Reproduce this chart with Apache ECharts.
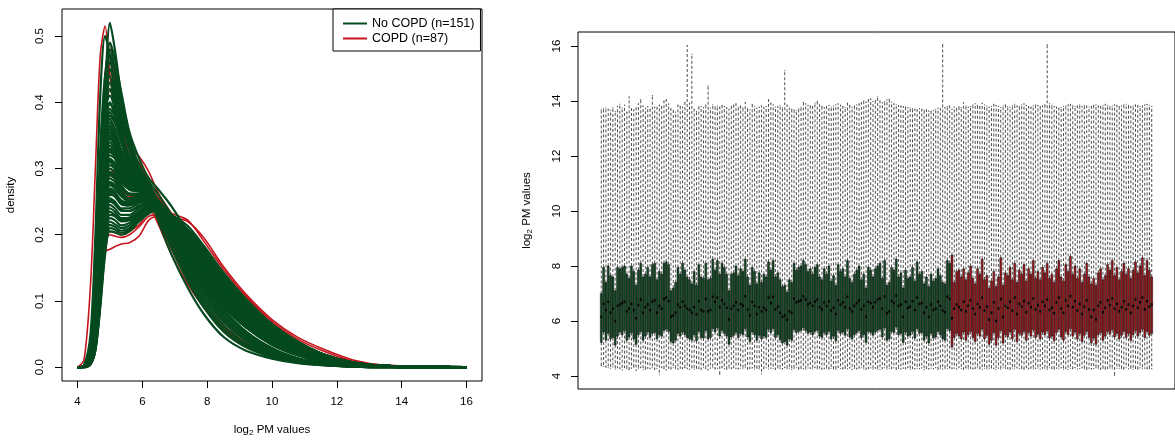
<!DOCTYPE html>
<html><head><meta charset="utf-8">
<script src="https://cdn.jsdelivr.net/npm/echarts@6/dist/echarts.min.js"></script>
<style>html,body{margin:0;padding:0;background:#fff}#c{width:1175px;height:442px}</style>
</head><body><div id="c"></div>
<script>
// ---------- density panel data (density values in thousandths) ----------
const densityX = [4.0,4.2,4.4,4.55,4.7,4.85,5.0,5.15,5.35,5.6,5.9,6.2,6.5,6.9,7.4,7.9,8.5,9.2,10.0,10.8,11.6,12.5,13.5,16.0];
const greenDensity = [
 [0,1,10,60,200,410,520,480,410,350,300,260,220,170,120,80,46,25,13,6,3,1,0,0],
 [0,3,50,200,410,500,470,420,370,330,295,262,228,180,130,90,54,30,15,7,3,1,0,0],
 [0,1,12,70,230,420,490,465,415,355,315,285,268,243,205,168,125,85,50,27,12,4,1,0],
 [0,2,20,100,270,440,480,450,395,340,300,270,235,192,142,100,63,36,19,9,4,1,0,0],
 [0,1,10,60,210,390,470,450,400,345,305,275,232,185,136,95,58,33,17,8,3,1,0,0],
 [0,2,30,140,330,440,460,430,380,330,290,262,235,195,145,105,68,40,20,9,4,1,0,0],
 [0,1,12,65,220,390,450,430,380,330,300,275,240,205,158,118,80,48,25,12,5,2,1,0],
 [0,1,15,80,250,400,440,410,360,315,285,262,238,200,150,110,72,43,22,10,4,1,0,0],
 [0,1,12,70,240,390,430,400,350,305,278,255,240,203,155,115,76,46,24,11,5,2,0,0],
 [0,1,8,45,180,360,420,400,355,310,285,265,244,210,165,126,88,54,29,14,6,2,1,0],
 [0,2,25,120,290,390,410,390,350,310,288,270,242,208,162,122,84,51,27,13,6,2,1,0],
 [0,2,25,120,280,380,400,380,340,305,283,266,246,214,170,132,94,60,34,18,8,3,1,0],
 [0,1,7,40,160,320,390,380,350,320,300,280,260,230,185,145,102,66,37,19,9,3,1,0],
 [0,1,10,55,190,330,385,372,340,310,290,272,245,210,165,128,92,60,34,18,8,3,1,0],
 [0,1,10,50,190,330,380,370,340,310,290,275,250,226,186,150,112,76,46,25,12,4,1,0],
 [0,1,20,100,240,340,375,360,325,295,280,268,248,217,174,136,97,63,36,19,8,3,1,0],
 [0,1,8,45,170,315,370,358,328,300,284,270,252,222,180,142,103,68,40,21,10,3,1,0],
 [0,2,25,115,250,340,365,350,318,292,280,268,250,220,178,140,100,66,38,20,9,3,1,0],
 [0,1,6,35,140,290,360,345,310,285,275,265,245,210,165,128,92,60,34,18,8,3,1,0],
 [0,1,12,60,180,300,355,342,312,290,278,268,250,225,184,148,110,74,44,24,11,4,1,0],
 [0,2,30,130,260,330,350,335,305,285,278,270,250,222,181,145,106,71,42,22,10,4,1,0],
 [0,1,8,40,150,285,345,335,305,284,275,266,250,226,188,152,114,79,48,27,13,5,1,0],
 [0,1,6,35,140,280,340,330,300,280,270,262,250,225,184,148,110,74,44,24,11,4,1,0],
 [0,1,15,75,200,300,335,325,298,280,273,266,248,228,192,156,118,82,50,28,13,5,1,0],
 [0,1,15,80,200,300,330,320,295,278,272,268,250,226,186,150,112,76,46,25,12,4,1,0],
 [0,1,7,38,140,270,325,318,292,277,271,265,250,228,194,160,122,86,53,30,15,5,2,0],
 [0,1,6,35,130,260,320,315,290,275,270,265,248,228,192,156,118,82,50,28,13,5,1,0],
 [0,1,12,60,170,275,315,308,286,272,268,263,250,226,188,152,114,79,48,27,13,5,1,0],
 [0,2,25,110,220,290,310,300,280,268,265,262,250,226,188,152,114,79,48,27,13,5,1,0],
 [0,1,8,40,140,255,305,300,282,270,268,264,248,228,196,163,125,89,56,32,16,6,2,0],
 [0,1,6,30,120,250,300,295,275,262,262,260,250,228,194,160,122,86,53,30,15,5,2,0],
 [0,1,10,50,150,255,295,290,272,262,260,258,248,228,192,156,118,82,50,28,13,5,1,0],
 [0,1,14,65,170,260,290,285,270,260,260,258,246,228,198,166,128,92,58,34,17,6,2,0],
 [0,1,12,60,160,250,285,280,265,255,256,256,248,228,196,163,125,89,56,32,16,6,2,0],
 [0,1,6,30,110,230,280,275,262,255,258,260,244,228,200,170,132,95,60,35,18,7,2,0],
 [0,1,10,48,140,240,275,270,258,250,254,255,250,228,194,160,122,86,53,30,15,5,2,0],
 [0,1,5,30,110,225,270,265,250,245,250,252,246,228,198,166,128,92,58,34,17,6,2,0],
 [0,1,9,45,135,230,265,262,250,246,250,253,242,228,202,172,136,98,62,37,18,7,2,0],
 [0,1,8,40,130,220,260,258,248,248,255,258,250,220,178,140,100,66,38,20,9,3,1,0],
 [0,1,15,70,160,230,255,250,238,236,243,248,244,228,200,170,132,95,60,35,18,7,2,0],
 [0,1,7,35,120,215,250,246,236,236,244,250,240,228,204,176,139,100,64,38,19,7,2,0],
 [0,0,6,32,110,205,245,240,230,230,240,246,246,228,198,166,128,92,58,34,17,6,2,0],
 [0,0,5,30,100,200,240,235,225,226,236,244,242,228,202,172,136,98,62,37,18,7,2,0],
 [0,1,12,55,140,210,235,230,222,224,234,242,240,228,204,176,139,100,64,38,19,7,2,0],
 [0,0,5,28,100,195,230,228,220,222,232,241,244,228,200,170,132,95,60,35,18,7,2,0],
 [0,1,10,50,130,200,225,222,214,218,230,240,240,228,204,176,139,100,64,38,19,7,2,0],
 [0,0,5,26,95,185,220,216,210,214,228,238,238,228,208,180,141,102,65,38,19,7,2,0],
 [0,1,8,40,115,190,215,212,206,210,225,236,242,228,202,172,136,98,62,37,18,7,2,0],
 [0,0,4,25,90,170,210,208,203,207,222,234,236,230,213,183,143,103,65,38,19,7,2,0],
 [0,0,5,28,95,175,205,204,200,205,220,232,238,228,208,180,141,102,65,38,19,7,2,0],
 [0,1,9,45,150,260,312,306,284,270,266,262,248,228,194,160,122,86,53,30,15,5,2,0],
 [0,1,11,55,160,255,292,288,271,260,259,257,246,228,198,166,128,92,58,34,17,6,2,0],
 [0,1,8,42,140,240,278,273,260,252,255,257,248,228,196,163,125,89,56,32,16,6,2,0],
 [0,1,7,38,128,228,268,263,252,248,252,255,244,228,200,170,132,95,60,35,18,7,2,0],
 [0,1,12,58,150,236,262,258,246,244,250,254,242,228,202,172,136,98,62,37,18,7,2,0],
 [0,1,9,45,135,225,252,248,240,240,248,252,240,228,204,176,139,100,64,38,19,7,2,0],
 [0,1,10,50,165,280,328,320,296,281,275,268,250,226,188,152,114,79,48,27,13,5,1,0],
 [0,1,9,46,170,298,348,338,308,288,279,270,250,225,184,148,110,74,44,24,11,4,1,0],
 [0,1,8,44,160,306,362,350,318,294,282,272,250,222,181,145,106,71,42,22,10,4,1,0],
 [0,1,10,52,190,340,398,385,350,316,295,276,250,220,178,140,100,66,38,20,9,3,1,0]
];
const redDensity = [
 [0,11,125,300,470,515,440,395,358,330,308,278,240,190,135,95,58,32,16,7,3,1,0,0],
 [0,1,8,40,160,360,460,450,400,345,300,270,240,200,150,110,72,42,22,10,4,1,0,0],
 [0,1,10,50,190,360,420,400,360,335,318,295,262,232,190,150,108,70,40,21,10,3,1,0],
 [0,2,15,70,220,380,420,390,340,300,270,245,215,170,125,90,56,32,16,7,3,1,0,0],
 [0,1,10,45,150,280,330,320,295,280,275,270,255,228,190,155,117,80,48,27,13,5,1,0],
 [0,2,20,80,150,175,178,182,186,188,198,222,228,226,220,195,152,110,72,45,27,11,3,0],
 [0,2,15,70,160,200,205,203,200,205,215,235,238,232,222,190,148,107,69,42,24,9,3,0],
 [0,1,10,50,140,190,200,198,196,200,212,228,230,225,205,172,135,97,62,37,19,7,2,0],
 [0,1,12,60,170,270,300,290,270,260,262,262,250,226,190,156,118,82,50,28,14,5,1,0],
 [0,2,12,60,240,440,490,440,380,330,295,265,235,190,140,100,64,37,19,9,4,1,0,0],
 [0,1,10,50,180,370,450,420,370,320,285,255,222,178,130,94,60,34,17,8,3,1,0,0],
 [0,1,12,55,170,310,380,370,340,310,292,275,255,225,182,146,108,72,43,23,11,4,1,0],
 [0,2,20,90,220,320,350,338,310,290,282,272,252,226,186,150,112,76,46,25,12,4,1,0],
 [0,1,8,40,140,250,290,285,268,258,260,262,252,230,196,162,124,88,55,31,15,5,2,0]
];
const densityScale = 1000; // values above are density x 1000
const densityTicksX = [4,6,8,10,12,14,16];
const densityTicksY = [0,0.1,0.2,0.3,0.4,0.5];
const legendNames = ['No COPD (n=151)','COPD (n=87)'];

// ---------- boxplot panel data: [lowWhisker, Q1, median, Q3, highWhisker] ----------
const greenBoxes = [
 [4.38,5.22,6.15,7.00,13.68],[4.35,5.60,6.62,7.95,13.72],[4.32,5.30,6.40,7.40,13.74],[4.30,5.55,6.70,8.00,13.70],[4.28,5.35,6.30,7.65,13.66],[4.33,5.40,6.45,7.60,13.75],[4.25,5.12,6.00,7.10,13.62],[4.30,5.45,6.55,7.95,13.80],[4.27,5.60,6.60,7.90,13.88],[4.22,5.50,6.65,7.95,13.75],
 [4.30,5.65,6.70,8.00,13.85],[4.26,5.30,6.35,7.70,13.60],[4.24,5.42,6.45,7.55,14.15],[4.28,5.58,6.62,8.00,13.72],[4.32,5.35,6.40,7.80,13.68],[4.20,5.15,6.10,7.30,13.75],[4.26,5.50,6.58,7.85,13.90],[4.30,5.62,6.78,8.10,14.05],[4.22,5.30,6.30,7.60,13.82],[4.25,5.45,6.50,7.70,13.74],
 [4.28,5.60,6.60,7.95,13.80],[4.26,5.40,6.40,7.60,13.70],[4.30,5.55,6.70,8.05,14.20],[4.24,5.58,6.75,8.10,13.78],[4.27,5.35,6.30,7.50,13.76],[4.05,5.50,6.55,7.80,13.85],[4.30,5.45,6.45,7.70,13.80],[4.26,5.65,6.80,8.10,14.00],[4.22,5.70,6.85,8.15,14.05],[4.28,5.62,6.72,8.05,13.90],
 [4.25,5.25,6.15,7.10,13.72],[4.30,5.20,6.20,7.20,13.65],[4.26,5.30,6.30,7.40,13.60],[4.24,5.55,6.60,7.95,13.85],[4.28,5.45,6.50,7.70,13.80],[4.27,5.60,6.70,8.10,13.78],[4.31,5.50,6.55,7.85,13.95],[4.26,5.40,6.45,7.60,16.02],[4.24,5.35,6.40,7.50,13.92],[4.29,5.30,6.30,7.35,15.70],
 [4.25,5.50,6.50,7.80,13.70],[4.28,5.28,6.25,7.30,13.62],[4.27,5.62,6.72,8.05,13.78],[4.24,5.40,6.40,7.60,13.80],[4.30,5.38,6.35,7.55,13.76],[4.26,5.65,6.80,8.10,13.85],[4.22,5.35,6.35,7.50,14.55],[4.28,5.40,6.40,7.55,13.74],[4.30,5.72,6.88,8.25,13.86],[4.25,5.60,6.70,7.85,13.80],
 [4.28,5.75,6.85,8.20,13.82],[4.06,5.45,6.50,7.70,13.78],[4.30,5.65,6.75,8.10,13.84],[4.26,5.55,6.62,7.95,13.80],[4.24,5.45,6.48,7.70,13.76],[4.29,5.15,6.05,7.10,13.70],[4.26,5.42,6.45,7.70,13.80],[4.30,5.48,6.55,7.75,13.85],[4.27,5.58,6.68,8.00,13.90],[4.25,5.40,6.40,7.65,13.78],
 [4.28,5.55,6.62,7.90,13.82],[4.26,5.50,6.55,7.80,13.74],[4.30,5.72,6.90,8.25,13.95],[4.24,5.42,6.42,7.60,13.72],[4.27,5.25,6.20,7.30,13.68],[4.29,5.60,6.70,7.95,13.88],[4.25,5.50,6.55,7.80,13.80],[4.28,5.30,6.25,7.35,13.74],[4.26,5.48,6.50,7.75,13.78],[4.08,5.35,6.35,7.40,13.82],
 [4.27,5.45,6.48,7.70,13.76],[4.30,5.40,6.40,7.60,13.80],[4.25,5.70,6.85,8.15,14.05],[4.28,5.58,6.65,7.85,13.92],[4.26,5.72,6.88,8.20,13.86],[4.24,5.40,6.42,7.60,13.78],[4.29,5.50,6.52,7.75,13.80],[4.27,5.32,6.30,7.50,13.84],[4.25,5.20,6.15,7.25,13.76],[4.30,5.25,6.20,7.30,15.10],
 [4.26,5.12,6.05,7.05,13.85],[4.28,5.35,6.35,7.50,13.74],[4.24,5.30,6.30,7.40,13.70],[4.27,5.68,6.82,8.10,13.68],[4.30,5.58,6.68,7.85,13.65],[4.25,5.62,6.72,7.95,13.72],[4.28,5.65,6.75,8.00,13.78],[4.26,5.75,6.90,8.20,13.95],[4.24,5.65,6.78,8.05,13.90],[4.29,5.55,6.60,7.80,13.84],
 [4.27,5.60,6.65,7.90,13.82],[4.25,5.50,6.55,7.70,13.80],[4.30,5.62,6.70,7.95,13.92],[4.26,5.66,6.78,8.05,13.98],[4.28,5.45,6.50,7.60,13.86],[4.24,5.40,6.42,7.50,13.80],[4.27,5.58,6.68,7.90,13.76],[4.29,5.50,6.55,7.70,13.80],[4.25,5.62,6.72,8.00,13.84],[4.28,5.35,6.38,7.45,13.78],
 [4.26,5.45,6.48,7.65,13.82],[4.24,5.28,6.25,7.30,13.86],[4.30,5.66,6.75,8.05,13.90],[4.27,5.55,6.60,7.80,13.85],[4.25,5.60,6.68,7.90,13.80],[4.28,5.48,6.50,7.60,13.76],[4.26,5.72,6.88,8.20,13.92],[4.29,5.42,6.45,7.55,13.84],[4.24,5.35,6.35,7.40,13.78],[4.27,5.50,6.55,7.70,13.82],
 [4.25,5.58,6.65,7.85,13.86],[4.28,5.65,6.75,8.00,13.90],[4.30,5.40,6.42,7.50,13.94],[4.26,5.50,6.55,7.70,14.00],[4.24,5.22,6.15,7.20,13.96],[4.27,5.62,6.70,7.95,14.05],[4.29,5.58,6.65,7.85,14.08],[4.25,5.48,6.50,7.60,13.98],[4.28,5.60,6.68,7.90,14.02],[4.26,5.66,6.78,8.00,14.15],
 [4.24,5.70,6.82,8.10,14.00],[4.27,5.42,6.45,7.55,13.94],[4.30,5.75,6.90,8.20,13.98],[4.25,5.30,6.28,7.30,14.04],[4.28,5.35,6.35,7.40,14.06],[4.26,5.62,6.72,7.95,13.96],[4.29,5.58,6.65,7.85,13.90],[4.24,5.78,6.92,8.25,13.88],[4.27,5.50,6.55,7.60,13.84],[4.25,5.55,6.60,7.75,13.82],
 [4.28,5.22,6.15,7.20,13.80],[4.26,5.60,6.70,7.85,13.78],[4.30,5.45,6.48,7.55,13.76],[4.24,5.48,6.52,7.60,13.74],[4.27,5.62,6.72,7.95,13.72],[4.25,5.38,6.40,7.45,13.70],[4.28,5.72,6.85,8.15,13.68],[4.26,5.55,6.62,7.70,13.72],[4.29,5.58,6.65,7.80,13.70],[4.24,5.30,6.30,7.35,13.66],
 [4.27,5.45,6.50,7.60,13.68],[4.25,5.20,6.15,7.25,13.64],[4.28,5.55,6.60,7.70,13.62],[4.26,5.38,6.40,7.45,13.66],[4.30,5.42,6.45,7.55,13.70],[4.24,5.62,6.70,7.90,13.74],[4.27,5.50,6.55,7.65,13.72],[4.25,5.35,6.38,7.40,16.05],[4.28,5.30,6.32,7.35,13.76],[4.26,5.72,6.88,8.20,13.80],
 [4.29,5.65,6.80,8.10,13.82]
];
const redBoxes = [
 [4.26,5.05,6.10,8.40,13.70],[4.28,5.40,6.45,7.40,13.78],[4.25,5.55,6.60,7.80,13.74],[4.30,5.45,6.50,7.85,13.80],[4.27,5.35,6.40,7.60,13.76],[4.24,5.60,6.70,7.90,13.94],[4.29,5.30,6.35,7.50,13.82],[4.26,5.50,6.55,7.75,13.78],[4.28,5.62,6.75,8.00,13.80],[4.25,5.40,6.45,7.55,13.86],
 [4.27,5.25,6.25,7.35,13.90],[4.30,5.55,6.62,7.90,13.84],[4.26,5.45,6.50,7.70,13.80],[4.24,5.70,6.85,8.25,13.92],[4.28,5.35,6.38,7.50,13.86],[4.25,5.48,6.52,7.65,13.82],[4.27,5.15,6.05,7.20,13.78],[4.29,5.30,6.30,7.45,13.80],[4.26,5.58,6.68,7.80,13.88],[4.24,5.12,6.00,7.25,13.84],
 [4.28,5.40,6.45,7.60,13.80],[4.25,5.65,6.80,8.30,13.76],[4.30,5.20,6.15,7.30,13.82],[4.27,5.50,6.55,7.75,13.86],[4.26,5.42,6.48,7.65,13.80],[4.24,5.60,6.70,7.95,13.78],[4.28,5.35,6.38,7.50,13.84],[4.25,5.70,6.85,8.10,13.88],[4.29,5.25,6.25,7.40,13.82],[4.26,5.55,6.62,7.85,13.80],
 [4.27,5.48,6.52,7.70,13.86],[4.24,5.62,6.72,8.05,13.90],[4.30,5.30,6.32,7.45,13.84],[4.25,5.58,6.65,7.90,13.80],[4.28,5.45,6.50,7.70,13.78],[4.26,5.68,6.82,8.20,13.82],[4.27,5.40,6.42,7.55,13.86],[4.29,5.52,6.58,7.80,13.84],[4.25,5.35,6.35,7.50,13.80],[4.28,5.60,6.70,7.95,13.82],
 [4.26,5.50,6.55,7.75,13.86],[4.24,5.65,6.78,8.10,16.05],[4.30,5.38,6.40,7.55,13.90],[4.27,5.45,6.48,7.70,13.84],[4.25,5.28,6.28,7.40,13.80],[4.28,5.58,6.68,7.90,13.78],[4.26,5.70,6.85,8.20,13.74],[4.29,5.42,6.45,7.60,13.76],[4.25,5.30,6.30,7.45,13.80],[4.27,5.62,6.75,8.05,13.82],
 [4.24,5.50,6.55,7.80,13.86],[4.28,5.72,6.90,8.35,13.88],[4.26,5.45,6.50,7.70,13.84],[4.30,5.60,6.72,8.00,13.80],[4.25,5.35,6.38,7.55,13.82],[4.27,5.55,6.62,7.90,13.86],[4.29,5.25,6.25,7.40,13.80],[4.26,5.48,6.52,7.70,13.84],[4.24,5.62,6.75,8.10,13.82],[4.28,5.40,6.42,7.60,13.78],
 [4.25,5.20,6.15,7.35,13.80],[4.27,5.38,6.40,7.55,13.84],[4.30,5.15,6.05,7.30,13.86],[4.26,5.50,6.55,7.75,13.82],[4.24,5.58,6.68,7.90,13.80],[4.28,5.30,6.32,7.50,13.84],[4.25,5.45,6.48,7.65,13.88],[4.27,5.62,6.75,8.05,13.84],[4.29,5.52,6.58,7.85,13.80],[4.26,5.68,6.82,8.20,13.82],
 [4.02,5.42,6.45,7.65,13.86],[4.28,5.55,6.62,7.95,13.84],[4.28,5.35,6.35,7.50,13.80],[4.27,5.48,6.50,7.80,13.82],[4.25,5.62,6.72,8.10,13.86],[4.30,5.40,6.42,7.70,13.88],[4.26,5.55,6.60,7.90,13.84],[4.28,5.30,6.30,7.55,13.80],[4.24,5.50,6.55,7.85,13.82],[4.27,5.65,6.78,8.15,13.86],
 [4.25,5.45,6.48,7.75,13.84],[4.29,5.58,6.68,8.00,13.80],[4.26,5.70,6.85,8.30,13.82],[4.28,5.40,6.42,7.65,13.86],[4.25,5.62,6.72,8.20,13.88],[4.27,5.48,6.52,7.85,13.84],[4.26,5.55,6.60,7.60,13.80]
];
const boxTicksY = [4,6,8,10,12,14,16];

// ---------- styling ----------
const FONT = "'Liberation Sans', Arial, Helvetica, sans-serif";
const lineGreen = '#05491f', lineRed = '#c4151c';
const boxGreen = '#0e4a21', boxRed = '#a3141a';
const nameRich = {
  n: {fontSize: 11.5, fontFamily: FONT, color: '#000', lineHeight: 14},
  s: {fontSize: 8, fontFamily: FONT, color: '#000', lineHeight: 14, verticalAlign: 'bottom', padding: [5, 0, 0, 0]}
};

const densitySeries = [];
function addCurves(rows, name, color, width, z) {
  rows.forEach(c => densitySeries.push({
    name: name, type: 'line', xAxisIndex: 0, yAxisIndex: 0,
    data: densityX.map((x, k) => [x, c[k] / densityScale]), showSymbol: false, symbol: 'none',
    smooth: 0.3, lineStyle: {color: color, width: width}, itemStyle: {color: color},
    silent: true, z: z
  }));
}
addCurves(redDensity, legendNames[1], lineRed, 1.6, 2);
addCurves(greenDensity, legendNames[0], lineGreen, 2.2, 3);

const boxData = greenBoxes.map((b, i) => [i + 1, b[0], b[1], b[2], b[3], b[4], 0])
  .concat(redBoxes.map((b, i) => [greenBoxes.length + i + 1, b[0], b[1], b[2], b[3], b[4], 1]));
const nBoxes = boxData.length;
const pad = nBoxes * 0.04;

function renderBox(params, api) {
  const x = api.value(0);
  const lo = api.coord([x, api.value(1)]);
  const q1 = api.coord([x, api.value(2)]);
  const md = api.coord([x, api.value(3)]);
  const q3 = api.coord([x, api.value(4)]);
  const hi = api.coord([x, api.value(5)]);
  const bw = api.size([1, 0])[0];
  const w = bw * 0.8;
  const cx = lo[0];
  const fill = api.value(6) === 0 ? boxGreen : boxRed;
  const dash = {stroke: '#222', lineWidth: 0.8, lineDash: [3, 2]};
  const solid = {stroke: '#222', lineWidth: 0.8};
  return {type: 'group', children: [
    {type: 'line', shape: {x1: cx, y1: q3[1], x2: cx, y2: hi[1]}, style: dash},
    {type: 'line', shape: {x1: cx, y1: q1[1], x2: cx, y2: lo[1]}, style: dash},
    {type: 'line', shape: {x1: cx - w / 4, y1: hi[1], x2: cx + w / 4, y2: hi[1]}, style: solid},
    {type: 'line', shape: {x1: cx - w / 4, y1: lo[1], x2: cx + w / 4, y2: lo[1]}, style: solid},
    {type: 'rect', shape: {x: cx - w / 2, y: q3[1], width: w, height: q1[1] - q3[1]}, style: {fill: fill, stroke: '#000', lineWidth: 0.5}},
    {type: 'line', shape: {x1: cx - w / 2, y1: md[1], x2: cx + w / 2, y2: md[1]}, style: {stroke: '#000', lineWidth: 2.5}}
  ]};
}

const tickStyle = (vals) => ({show: true, inside: false, length: 7, lineStyle: {color: '#000'}, customValues: vals});
const chart = echarts.init(document.getElementById('c'), null, {renderer: 'canvas'});
chart.setOption({
  animation: false,
  backgroundColor: '#fff',
  textStyle: {fontFamily: FONT},
  grid: [
    {left: 62, top: 9, width: 420, height: 376, show: true, borderColor: '#000', borderWidth: 1, backgroundColor: 'transparent'},
    {left: 578, top: 32, width: 607, height: 357, show: true, borderColor: '#000', borderWidth: 1, backgroundColor: 'transparent'}
  ],
  legend: {
    left: 333, top: 9, orient: 'vertical', icon: 'rect', itemWidth: 24, itemHeight: 2, itemGap: 2,
    padding: [8, 6, 6, 10], borderColor: '#000', borderWidth: 1, backgroundColor: '#fff',
    selectedMode: false,
    textStyle: {fontSize: 12.5, fontFamily: FONT, color: '#000', lineHeight: 13},
    data: [
      {name: legendNames[0], itemStyle: {color: lineGreen}},
      {name: legendNames[1], itemStyle: {color: lineRed}}
    ]
  },
  xAxis: [
    {gridIndex: 0, type: 'value', min: 3.52, max: 16.48,
     name: '{n|log}{s|2}{n| PM values}', nameLocation: 'middle', nameGap: 42,
     nameTextStyle: {rich: nameRich},
     axisLine: {show: false, onZero: false},
     axisTick: tickStyle(densityTicksX),
     axisLabel: {customValues: densityTicksX, margin: 15, fontSize: 11.5, color: '#000', fontFamily: FONT},
     splitLine: {show: false}},
    {gridIndex: 1, type: 'value', min: 0.5 - pad, max: nBoxes + 0.5 + pad, show: false,
     axisLine: {onZero: false}, splitLine: {show: false}}
  ],
  yAxis: [
    {gridIndex: 0, type: 'value', min: -0.0208, max: 0.5408,
     name: 'density', nameLocation: 'middle', nameGap: 45, nameRotate: 90,
     nameTextStyle: {fontSize: 11.5, color: '#000', fontFamily: FONT},
     axisLine: {show: false, onZero: false},
     axisTick: tickStyle(densityTicksY),
     axisLabel: {customValues: densityTicksY, rotate: 90, margin: 16, fontSize: 11.5, color: '#000', fontFamily: FONT,
       formatter: v => Number(v).toFixed(1)},
     splitLine: {show: false}},
    {gridIndex: 1, type: 'value', min: 3.527, max: 16.509,
     name: '{n|log}{s|2}{n| PM values}', nameLocation: 'middle', nameGap: 44, nameRotate: 90,
     nameTextStyle: {rich: nameRich},
     axisLine: {show: false, onZero: false},
     axisTick: tickStyle(boxTicksY),
     axisLabel: {customValues: boxTicksY, rotate: 90, margin: 15, fontSize: 11.5, color: '#000', fontFamily: FONT},
     splitLine: {show: false}}
  ],
  series: densitySeries.concat([{
    type: 'custom', name: 'boxes', xAxisIndex: 1, yAxisIndex: 1,
    data: boxData, renderItem: renderBox, encode: {x: 0, y: [1, 5]}, clip: true, silent: true, z: 2
  }])
});
</script>
</body></html>
